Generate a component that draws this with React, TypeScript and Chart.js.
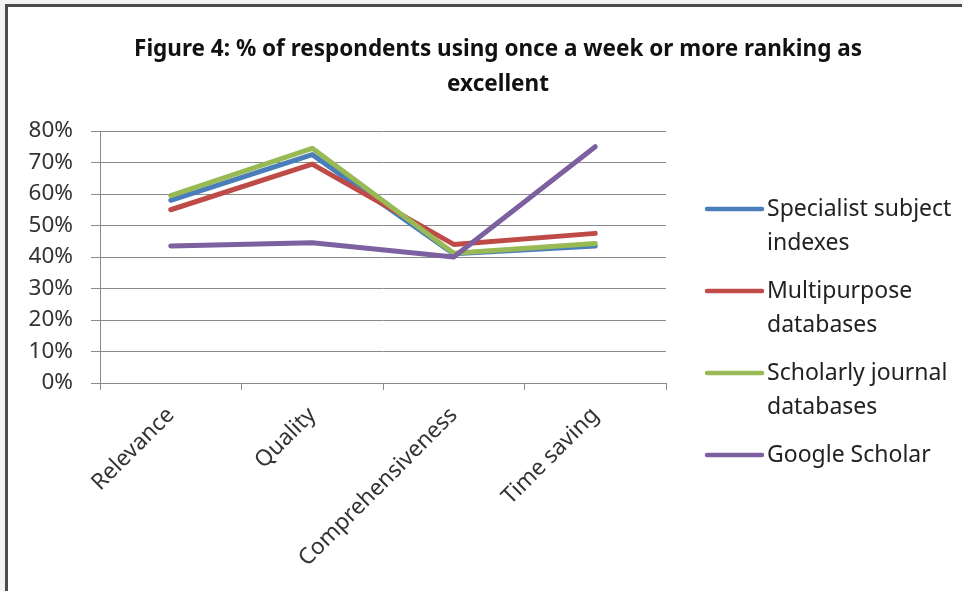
import React, { useEffect, useRef } from "react";
import { Chart, registerables } from "chart.js";

Chart.register(...registerables);

// Survey categories along the x axis
const categories = ["Relevance", "Quality", "Comprehensiveness", "Time saving"];

// Percentage of respondents (using once a week or more) rating each source as excellent
const specialistSubjectIndexes = [58, 72.5, 41, 43.5];
const multipurposeDatabases = [55, 69.5, 44, 47.5];
const scholarlyJournalDatabases = [59.5, 74.5, 41.2, 44.3];
const googleScholar = [43.5, 44.5, 40, 75];

// Legend text, pre-wrapped onto lines
const seriesNames = [
  ["Specialist subject", "indexes"],
  ["Multipurpose", "databases"],
  ["Scholarly journal", "databases"],
  ["Google Scholar"],
];
const seriesColors = ["#4A7EBB", "#BE4B48", "#98B954", "#7D60A0"];

const titleLines = [
  "Figure 4: % of respondents using once a week or more ranking as",
  "excellent",
];

const yTicks = [0, 10, 20, 30, 40, 50, 60, 70, 80];

const FONT = "'Noto Sans', 'Open Sans', sans-serif";

const framePlugin = {
  id: "frame",
  beforeDraw(chart: any) {
    const { ctx, width, height } = chart;
    ctx.save();
    ctx.fillStyle = "#f3f3f3";
    ctx.fillRect(0, 0, width, height);
    ctx.fillStyle = "#ffffff";
    ctx.fillRect(5, 4, width - 5, height - 4);
    ctx.fillStyle = "#4b4b4b";
    ctx.fillRect(5, 4, width - 5, 3);
    ctx.fillRect(5, 4, 3, height - 4);
    ctx.restore();
  },
  afterDraw(chart: any) {
    const { ctx } = chart;
    ctx.save();
    // Title
    ctx.fillStyle = "#111111";
    ctx.font = `bold 22.5px ${FONT}`;
    ctx.textAlign = "center";
    ctx.textBaseline = "middle";
    titleLines.forEach((line, i) => ctx.fillText(line, 498, 50 + i * 35));

    // Legend on the right
    const lineX0 = 707;
    const lineX1 = 762;
    const textX = 767;
    const lineGap = 34;
    const itemGap = 48;
    let y = 209;
    ctx.font = `23px ${FONT}`;
    ctx.textAlign = "left";
    chart.data.datasets.forEach((ds: any, i: number) => {
      ctx.strokeStyle = ds.borderColor;
      ctx.lineWidth = 4.5;
      ctx.lineCap = "round";
      ctx.beginPath();
      ctx.moveTo(lineX0, y);
      ctx.lineTo(lineX1, y);
      ctx.stroke();
      ctx.fillStyle = "#222222";
      const lines = seriesNames[i];
      lines.forEach((t, j) => ctx.fillText(t, textX, y + j * lineGap));
      y += (lines.length - 1) * lineGap + itemGap;
    });
    ctx.restore();
  },
};

export default function App() {
  const canvasRef = useRef<HTMLCanvasElement>(null);

  useEffect(() => {
    if (!canvasRef.current) return;
    const series = [
      specialistSubjectIndexes,
      multipurposeDatabases,
      scholarlyJournalDatabases,
      googleScholar,
    ];
    const chart = new Chart(canvasRef.current, {
      type: "line",
      data: {
        labels: categories,
        datasets: series.map((data, i) => ({
          label: seriesNames[i].join(" "),
          data,
          borderColor: seriesColors[i],
          backgroundColor: seriesColors[i],
          borderWidth: 5,
          pointRadius: 0,
          tension: 0,
          fill: false,
          borderCapStyle: "round" as const,
          borderJoinStyle: "round" as const,
          order: series.length - i,
        })),
      },
      options: {
        responsive: false,
        animation: false,
        layout: { padding: { top: 131, right: 296, left: 0, bottom: 0 } },
        plugins: {
          legend: { display: false },
          title: { display: false },
          tooltip: { enabled: false },
        },
        scales: {
          x: {
            type: "category",
            offset: true,
            grid: {
              offset: true,
              drawOnChartArea: false,
              drawTicks: true,
              tickLength: 7,
              color: "#8a8a8a",
            },
            border: { display: true, color: "#8a8a8a", width: 1 },
            ticks: {
              autoSkip: false,
              minRotation: 45,
              maxRotation: 45,
              padding: 12,
              color: "#333333",
              font: { family: FONT, size: 22.5 },
            },
            afterFit(scale: any) {
              scale.height = 208;
              scale.paddingLeft = 0;
              scale.paddingRight = 0;
            },
          },
          y: {
            min: 0,
            max: 80,
            afterBuildTicks(scale: any) {
              scale.ticks = yTicks.map((v) => ({ value: v }));
            },
            grid: {
              color: "#8a8a8a",
              lineWidth: 1,
              drawTicks: true,
              tickLength: 9,
            },
            border: { display: true, color: "#8a8a8a", width: 1 },
            ticks: {
              padding: 18,
              color: "#333333",
              font: { family: FONT, size: 22.5 },
              callback: (v: any) => `${v}%`,
            },
            afterFit(scale: any) {
              scale.width = 100;
              scale.paddingTop = 0;
              scale.paddingBottom = 0;
            },
          },
        },
      },
      plugins: [framePlugin],
    });
    return () => chart.destroy();
  }, []);

  return (
    <div style={{ position: "absolute", left: 0, top: 0, width: 962, height: 591 }}>
      <canvas ref={canvasRef} width={962} height={591} style={{ display: "block" }} />
    </div>
  );
}
